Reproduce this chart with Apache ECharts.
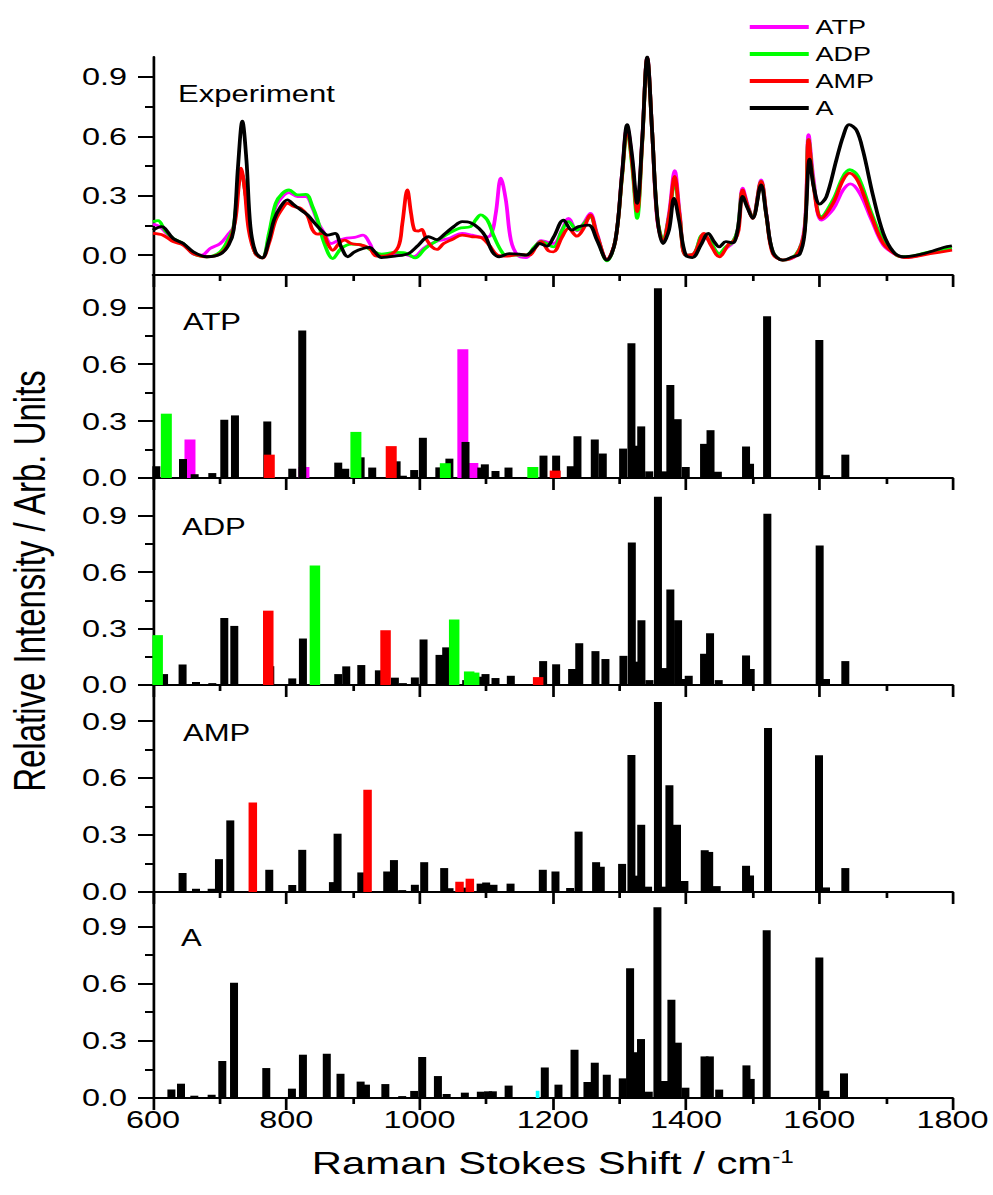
<!DOCTYPE html>
<html>
<head>
<meta charset="utf-8">
<title>Raman spectra of ATP, ADP, AMP and A</title>
<script src="https://cdn.jsdelivr.net/npm/echarts@6.0.0/dist/echarts.min.js"></script>
<style>
  html, body { margin: 0; padding: 0; background: #fff; }
  #wrap { width: 993px; height: 1195px; overflow: hidden; }
  /* the figure is drawn narrow and stretched sideways, like the original plot */
  #chart { width: 735.56px; height: 1195px; transform: scaleX(1.35); transform-origin: 0 0; }
</style>
</head>
<body>
<div id="wrap"><div id="chart"></div></div>
<script>
// ---------- data ----------
const xRange = [600, 1800];
const xStep = 200;
const yTickValues = [0, 0.3, 0.6, 0.9];
const yMinorValues = [0.15, 0.45, 0.75];
const legendNames = ['ATP', 'ADP', 'AMP', 'A'];
const panelNames = ['Experiment', 'ATP', 'ADP', 'AMP', 'A'];

// measured spectra: [Raman shift / cm-1, relative intensity]
const expATP = [[600,0.157],[610.1,0.144],[630.3,0.079],[645.4,0.059],[660.5,0.005],[673.1,0],[685.7,0.034],[700.9,0.059],[712,0.101],[721,0.144],[727.6,0.346],[732.6,0.414],[738.7,0.312],[746.2,0.11],[753.8,0.008],[763.9,-0.014],[774,0.093],[784.1,0.245],[796.7,0.304],[804.2,0.316],[816.8,0.296],[829.5,0.296],[839.5,0.236],[847.1,0.169],[857.2,0.11],[867.3,0.059],[877.4,0.073],[887.5,0.084],[902.6,0.09],[915.2,0.101],[925.3,0.059],[935.4,0],[953,-0.005],[973.2,0.008],[990.8,-0.008],[1006,0.034],[1023.6,0.068],[1043.8,0.084],[1063.9,0.11],[1079.1,0.101],[1094.2,0.09],[1106.8,0.101],[1114.4,0.211],[1122,0.389],[1129.5,0.279],[1137.1,0.076],[1147.2,0],[1159.8,-0.012],[1172.4,0.034],[1182.5,0.073],[1201,0.059],[1213.6,0.127],[1223.6,0.186],[1236.2,0.123],[1246.2,0.16],[1256.3,0.211],[1266.3,0.11],[1281.4,-0.025],[1294,0.076],[1304,0.414],[1311.6,0.647],[1319.1,0.481],[1326.6,0.211],[1334.2,0.583],[1341.7,0.997],[1349.2,0.617],[1356.8,0.177],[1365.3,0.076],[1374.4,0.211],[1382.9,0.427],[1390.5,0.211],[1399.5,0],[1412.1,0.008],[1424.6,0.096],[1434.7,0.073],[1449.7,0.008],[1459.8,0.034],[1469.8,0.062],[1477.4,0.127],[1484.9,0.338],[1492.5,0.253],[1500,0.191],[1512.6,0.38],[1521.1,0.194],[1530.2,0.017],[1545.2,-0.025],[1565.3,0],[1577.9,0.144],[1583.9,0.608],[1591.5,0.38],[1603,0.177],[1620.6,0.231],[1635.7,0.329],[1646.7,0.36],[1660.8,0.312],[1678.4,0.177],[1696,0.051],[1716.1,0],[1728.6,-0.012],[1766.3,0.012],[1799,0.029]];

const expADP = [[600,0.169],[607.6,0.174],[617.7,0.127],[630.3,0.084],[645.4,0.059],[660.5,0.008],[680.7,-0.008],[700.9,0.017],[713.5,0.084],[721,0.144],[727.6,0.346],[732.6,0.414],[738.7,0.312],[746.2,0.11],[753.8,0.008],[763.9,-0.014],[774,0.11],[784.1,0.262],[794.2,0.312],[804.2,0.329],[816.8,0.304],[829.5,0.307],[839.5,0.245],[847.1,0.177],[857.2,0.059],[869.8,-0.017],[882.4,0.034],[897.5,0.056],[912.7,0.051],[927.8,0.025],[942.9,0.005],[963.1,0.014],[978.2,0.012],[993.4,-0.014],[1008.5,0.034],[1023.6,0.068],[1043.8,0.11],[1058.9,0.135],[1076.6,0.144],[1084.1,0.177],[1091.7,0.203],[1101.8,0.177],[1111.9,0.093],[1122,0.025],[1129.5,0],[1159.8,0],[1172.4,0.042],[1182.5,0.068],[1201,0.042],[1213.6,0.123],[1223.6,0.169],[1236.2,0.127],[1246.2,0.157],[1256.3,0.194],[1266.3,0.101],[1281.4,-0.029],[1294,0.076],[1304,0.397],[1311.6,0.63],[1319.1,0.448],[1326.6,0.186],[1334.2,0.566],[1341.7,0.991],[1349.2,0.617],[1356.8,0.194],[1365.3,0.079],[1374.4,0.194],[1382.9,0.372],[1390.5,0.194],[1399.5,0],[1412.1,0.008],[1424.6,0.101],[1434.7,0.076],[1449.7,0.008],[1459.8,0.042],[1469.8,0.066],[1477.4,0.127],[1484.9,0.321],[1492.5,0.245],[1500,0.191],[1512.6,0.372],[1521.1,0.186],[1530.2,0.017],[1545.2,-0.025],[1565.3,0.005],[1577.9,0.127],[1583.9,0.583],[1591.5,0.355],[1603,0.194],[1620.6,0.279],[1635.7,0.397],[1645.7,0.431],[1658.3,0.397],[1678.4,0.211],[1696,0.076],[1716.1,0],[1728.6,-0.008],[1766.3,0.017],[1799,0.034]];

const expAMP = [[600,0.11],[615.1,0.101],[630.3,0.068],[645.4,0.051],[660.5,0.008],[680.7,-0.008],[700.9,0.008],[713.5,0.059],[723.6,0.177],[728.6,0.346],[732.1,0.439],[737.2,0.346],[743.7,0.127],[753.8,0.008],[763.9,-0.014],[774,0.059],[784.1,0.177],[794.2,0.236],[801.7,0.262],[811.8,0.245],[821.9,0.236],[832,0.198],[839.5,0.127],[847.1,0.106],[854.7,0.11],[862.2,0.059],[869.8,0.025],[879.9,0.062],[887.5,0.076],[897.5,0.059],[912.7,0.051],[925.3,0.034],[935.4,-0.005],[953,0],[968.1,0.042],[974.2,0.16],[981.7,0.329],[987.3,0.211],[992.3,0.127],[998.4,0.122],[1003.4,0.13],[1009.5,0.084],[1018.6,0.042],[1026.1,0.029],[1036.2,0.059],[1048.8,0.079],[1063.9,0.101],[1079.1,0.093],[1091.7,0.09],[1104.3,0.051],[1116.9,0],[1129.5,-0.005],[1149.7,0.003],[1164.8,0],[1174.9,0.042],[1182.5,0.068],[1193.5,0.022],[1201,0.017],[1213.6,0.09],[1223.6,0.135],[1236.2,0.096],[1246.2,0.135],[1256.3,0.203],[1266.3,0.101],[1281.4,-0.022],[1294,0.076],[1304,0.405],[1311.6,0.642],[1319.1,0.465],[1326.6,0.22],[1334.2,0.574],[1341.7,0.997],[1349.2,0.617],[1356.8,0.186],[1365.3,0.068],[1374.4,0.194],[1382.9,0.397],[1390.5,0.194],[1399.5,0],[1412.1,0.008],[1427.1,0.11],[1437.2,0.051],[1449.7,-0.008],[1464.8,0.059],[1472.4,0.073],[1478.9,0.127],[1484.9,0.329],[1492.5,0.245],[1500,0.186],[1512.6,0.372],[1521.1,0.186],[1530.2,0.008],[1545.2,-0.025],[1565.3,0],[1577.9,0.127],[1583.9,0.583],[1591.5,0.346],[1603,0.186],[1620.6,0.262],[1635.7,0.38],[1645.7,0.414],[1658.3,0.372],[1678.4,0.194],[1696,0.059],[1716.1,0],[1728.6,-0.012],[1766.3,0.008],[1799,0.025]];

const expA = [[600,0.127],[612.6,0.144],[630.3,0.084],[645.4,0.059],[660.5,0.017],[680.7,-0.008],[700.9,0.005],[713.5,0.051],[721,0.127],[727.6,0.448],[734.1,0.676],[740.2,0.481],[746.2,0.144],[753.8,0.017],[763.9,-0.014],[774,0.076],[781.5,0.177],[791.6,0.245],[801.7,0.279],[811.8,0.253],[821.9,0.228],[832,0.203],[842.1,0.164],[852.2,0.127],[862.2,0.101],[873.3,0.11],[882.4,0.042],[892.5,-0.008],[902.6,0.017],[915.2,0.034],[925.3,0.039],[932.8,0.017],[942.9,-0.012],[963.1,-0.005],[983.3,0.008],[998.4,0.051],[1013.5,0.093],[1026.1,0.079],[1038.7,0.11],[1051.3,0.144],[1063.9,0.169],[1076.6,0.164],[1089.2,0.135],[1099.3,0.093],[1109.3,0.017],[1119.4,-0.008],[1134.6,0.008],[1149.7,0.005],[1159.8,0],[1172.4,0.034],[1180,0.059],[1191,0.046],[1201,0.09],[1216.1,0.177],[1228.6,0.127],[1238.7,0.144],[1253.8,0.152],[1266.3,0.076],[1281.4,-0.025],[1294,0.076],[1304,0.414],[1311.6,0.659],[1319.1,0.498],[1326.6,0.262],[1334.2,0.583],[1341.7,1.0],[1349.2,0.617],[1356.8,0.194],[1365.3,0.059],[1374.4,0.127],[1381.9,0.287],[1389.4,0.177],[1399.5,0],[1409.5,-0.012],[1422.1,0.051],[1433.2,0.11],[1442.2,0.068],[1449.7,0.042],[1459.8,0.068],[1469.8,0.062],[1477.4,0.127],[1484.9,0.296],[1492.5,0.236],[1500,0.186],[1512.6,0.355],[1520.1,0.211],[1530.2,0.017],[1545.2,-0.025],[1560.3,-0.008],[1570.4,0.005],[1577.9,0.11],[1585.4,0.485],[1591.5,0.346],[1600.5,0.258],[1610.6,0.296],[1625.6,0.481],[1635.7,0.6],[1644.7,0.659],[1655.8,0.63],[1665.8,0.524],[1680.9,0.296],[1696,0.11],[1711.1,0.017],[1726.1,-0.008],[1746.2,0],[1766.3,0.017],[1786.4,0.039],[1799,0.047]];

// calculated modes: [Raman shift / cm-1, relative intensity]
const atpBlack = [[605,0.062],[645,0.10],[662.5,0.02],[689,0.026],[707,0.307],[723,0.33],[771.5,0.298],[809,0.049],[824,0.778],[878,0.081],[888.5,0.049],[911.6,0.109],[929,0.055],[965.6,0.088],[975,0.012],[992,0.042],[1005,0.212],[1029.7,0.056],[1044.8,0.102],[1069,0.19],[1092.7,0.055],[1098,0.072],[1114,0.037],[1133.5,0.055],[1186,0.118],[1205,0.118],[1227,0.062],[1237,0.22],[1263,0.203],[1275,0.129],[1305.5,0.155],[1318,0.71],[1322,0.17],[1332.7,0.272],[1344.7,0.035],[1357.8,1.0],[1368,0.035],[1376.4,0.49],[1387.4,0.31],[1399.5,0.058],[1427,0.18],[1436.7,0.252],[1447.7,0.033],[1490,0.166],[1496,0.075],[1521.6,0.852],[1600,0.727],[1610,0.015],[1639,0.123]];
const atpMagenta = [[655.5,0.203],[826.5,0.058],[1065,0.679],[1080,0.079]];
const atpGreen = [[620,0.339],[904.5,0.243],[1038.7,0.078],[1170,0.058]];
const atpRed = [[774.5,0.123],[957.5,0.168],[1203.6,0.039]];

const adpBlack = [[616.6,0.058],[644.4,0.109],[664.5,0.016],[689,0.01],[707,0.356],[722,0.314],[776,0.1],[809,0.035],[825,0.247],[878,0.058],[890,0.099],[912.6,0.106],[939,0.078],[963,0.039],[975,0.01],[993,0.04],[1006,0.242],[1030,0.16],[1040,0.2],[1070,0.026],[1092.7,0.044],[1099,0.058],[1114,0.037],[1137,0.049],[1185.5,0.127],[1205,0.11],[1229,0.085],[1239.7,0.222],[1264,0.18],[1279,0.138],[1306,0.155],[1318.6,0.757],[1325,0.124],[1333,0.344],[1345,0.026],[1357.8,1.0],[1368,0.09],[1376.4,0.508],[1388,0.344],[1394,0.032],[1404,0.049],[1427,0.166],[1436,0.275],[1449,0.026],[1490,0.157],[1497,0.085],[1522,0.91],[1600.5,0.741],[1610,0.032],[1639,0.127]];
const adpGreen = [[607,0.265],[843,0.635],[1052,0.348],[1074.5,0.072],[1082,0.066]];
const adpRed = [[773,0.395],[949,0.291],[1178,0.042]];

const ampBlack = [[644.4,0.1],[664.5,0.017],[688,0.017],[699,0.173],[716,0.377],[774.5,0.117],[809,0.037],[824,0.222],[870,0.052],[877,0.307],[912.6,0.103],[951.5,0.108],[961.6,0.168],[974,0.01],[993,0.038],[1007,0.157],[1037,0.126],[1045,0.02],[1069,0.023],[1091.7,0.044],[1100,0.05],[1111,0.038],[1136.6,0.044],[1185,0.117],[1204,0.108],[1226,0.021],[1238.7,0.318],[1265,0.157],[1272,0.133],[1304,0.148],[1318,0.722],[1323,0.086],[1332.7,0.354],[1343,0.028],[1357.8,1.0],[1368,0.028],[1375,0.562],[1386.4,0.354],[1397.5,0.058],[1428,0.22],[1434.7,0.211],[1446,0.031],[1490,0.138],[1496,0.087],[1523,0.864],[1599.5,0.72],[1610,0.024],[1639,0.126]];
const ampRed = [[749.8,0.471],[922,0.539],[1060,0.054],[1075.5,0.07]];

const aBlack = [[627.6,0.044],[642,0.075],[662,0.012],[688,0.017],[704,0.194],[721.6,0.604],[770,0.157],[808.5,0.049],[825,0.227],[860.8,0.232],[881.4,0.127],[911.6,0.086],[919.6,0.07],[948.7,0.073],[974,0.01],[992,0.037],[1004,0.215],[1027.6,0.115],[1040.7,0.021],[1068,0.028],[1092,0.033],[1103,0.035],[1110,0.035],[1133.7,0.065],[1188,0.16],[1208.5,0.07],[1232.6,0.253],[1252,0.084],[1263,0.185],[1281,0.122],[1305,0.103],[1316,0.68],[1322,0.24],[1332.4,0.309],[1344,0.033],[1357,1.0],[1368,0.089],[1378,0.515],[1387.6,0.29],[1399,0.054],[1427.7,0.218],[1435.7,0.218],[1449.7,0.044],[1490.6,0.171],[1497,0.1],[1521,0.88],[1600,0.736],[1609,0.038],[1637,0.129]];
const aCyan = [[1177.2,0.038]];

// ---------- layout ----------
const S = 1.35;                       // sideways stretch of the canvas
const FONT = "'Liberation Sans', Arial, Helvetica, sans-serif";
const C = { magenta: '#ff00ff', green: '#00ff00', red: '#ff0000', black: '#000000', cyan: '#00ffff' };
const hx = v => v / S;                // real horizontal pixels -> canvas pixels

const panels = [
  { top: 57,  height: 218, min: -0.1, max: 1.0  },
  { top: 275, height: 203, min: 0,    max: 1.07 },
  { top: 478, height: 207, min: 0,    max: 1.1  },
  { top: 685, height: 207, min: 0,    max: 1.09 },
  { top: 892, height: 206, min: 0,    max: 1.08 }
];
const labelY = [94, 322, 527, 733, 938];
const labelX = [178, 183, 182, 183, 181];

const axisLineStyle = { color: '#000', width: 2 };
const lastGrid = panels.length - 1;

const grid = panels.map(p => ({
  left: hx(153), right: hx(41), top: p.top, height: p.height,
  outerBoundsMode: 'none', containLabel: false
}));

const xAxis = [];
const yAxis = [];
panels.forEach((p, g) => {
  const isLast = g === lastGrid;
  xAxis.push({
    type: 'value', gridIndex: g, min: xRange[0], max: xRange[1], interval: xStep,
    axisLine: { show: true, onZero: false, lineStyle: axisLineStyle },
    axisTick: { show: true, length: 12, lineStyle: axisLineStyle },
    minorTick: { show: true, splitNumber: 2, length: 6, lineStyle: axisLineStyle },
    splitLine: { show: false }, minorSplitLine: { show: false },
    axisLabel: {
      show: isLast, formatter: v => String(v),
      fontSize: 24, fontFamily: FONT, color: '#000', margin: 10
    },
    name: isLast ? 'Raman Stokes Shift / cm{sup|-1}' : '',
    nameLocation: 'middle', nameGap: 50,
    nameTextStyle: {
      fontSize: 31, lineHeight: 31, fontFamily: FONT, color: '#000',
      rich: { sup: { fontSize: 18, lineHeight: 18, fontFamily: FONT, color: '#000', verticalAlign: 'top' } }
    }
  });
  // hidden twin axis so the wider coloured bars are centred on their own positions
  xAxis.push({ type: 'value', gridIndex: g, min: xRange[0], max: xRange[1], show: false });

  yAxis.push({
    type: 'value', gridIndex: g, min: p.min, max: p.max, position: 'left',
    axisLine: { show: true, onZero: false, lineStyle: axisLineStyle },
    axisTick: { show: true, customValues: yTickValues, length: hx(15), lineStyle: axisLineStyle },
    axisLabel: {
      customValues: yTickValues, formatter: v => v.toFixed(1),
      fontSize: 24, fontFamily: FONT, color: '#000', margin: hx(26)
    },
    splitLine: { show: false }
  });
  // minor ticks between the labelled ones
  yAxis.push({
    type: 'value', gridIndex: g, min: p.min, max: p.max, position: 'left', offset: 0,
    axisLine: { show: false },
    axisTick: { show: true, customValues: yMinorValues, length: hx(8), lineStyle: axisLineStyle },
    axisLabel: { show: false },
    splitLine: { show: false }
  });
});

function lineSeries(name, data, color) {
  return {
    type: 'line', name, data, xAxisIndex: 0, yAxisIndex: 0,
    smooth: 0.35, symbol: 'none', clip: true,
    lineStyle: { color, width: 2.8 }, itemStyle: { color }
  };
}
function barSeries(g, data, color, realWidth, twin) {
  return {
    type: 'bar', data, xAxisIndex: 2 * g + (twin ? 1 : 0), yAxisIndex: 2 * g,
    barWidth: hx(realWidth), barGap: '-100%', clip: true,
    itemStyle: { color }, emphasis: { disabled: true }
  };
}

const series = [
  lineSeries('ATP', expATP, C.magenta),
  lineSeries('ADP', expADP, C.green),
  lineSeries('AMP', expAMP, C.red),
  lineSeries('A', expA, C.black),

  barSeries(1, atpMagenta, C.magenta, 11, true),
  barSeries(1, atpBlack, C.black, 8, false),
  barSeries(1, atpGreen, C.green, 11, true),
  barSeries(1, atpRed, C.red, 11, true),

  barSeries(2, adpBlack, C.black, 8, false),
  barSeries(2, adpGreen, C.green, 10.5, true),
  barSeries(2, adpRed, C.red, 10.5, true),

  barSeries(3, ampBlack, C.black, 8, false),
  barSeries(3, ampRed, C.red, 8.5, true),

  barSeries(4, aCyan, C.cyan, 3.7, true),
  barSeries(4, aBlack, C.black, 8, false)
];

const graphic = panelNames.map((t, i) => ({
  type: 'text', x: hx(labelX[i]), y: labelY[i], silent: true,
  style: { text: t, font: '23px ' + FONT, fill: '#000', verticalAlign: 'middle' }
}));
graphic.push({
  type: 'text', x: hx(30), y: 581, rotation: Math.PI / 2, silent: true,
  style: {
    text: 'Relative Intensity / Arb. Units', font: '33px ' + FONT, fill: '#000',
    align: 'center', verticalAlign: 'middle'
  }
});

const option = {
  animation: false,
  backgroundColor: '#fff',
  grid, xAxis, yAxis, series, graphic,
  legend: {
    data: legendNames, orient: 'vertical', left: hx(743), top: 12,
    icon: 'rect', itemWidth: hx(59), itemHeight: 4, itemGap: 7,
    selectedMode: false,
    textStyle: { fontSize: 20, lineHeight: 20, fontFamily: FONT, color: '#000' }
  }
};

const chart = echarts.init(document.getElementById('chart'), null, { renderer: 'svg' });
chart.setOption(option);
</script>
</body>
</html>
